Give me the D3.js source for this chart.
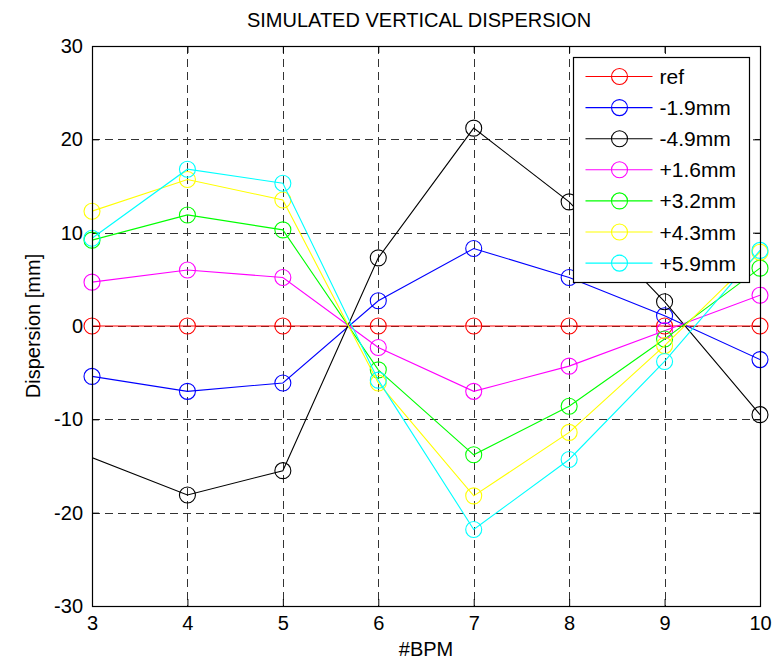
<!DOCTYPE html>
<html>
<head>
<meta charset="utf-8">
<script src="https://cdn.jsdelivr.net/npm/d3@7"></script>
<style>
  body { margin: 0; background: #fff; }
  text { font-family: "Liberation Sans", Arial, sans-serif; fill: #000; }
</style>
</head>
<body>
<div id="chart"></div>
<script>
// Simulated vertical dispersion per BPM

var bpm = [3, 4, 5, 6, 7, 8, 9, 10];
// the -4.9mm run starts one BPM earlier, its first point is off the axes
var bpmBlack = [2, 4, 5, 6, 7, 8, 9, 10];

var refVals   = [0, 0, 0, 0, 0, 0, 0, 0];
var m19Vals   = [-5.4, -7.0, -6.1, 2.7, 8.3, 5.2, 1.1, -3.6];
var m49Vals   = [-10.1, -18.1, -15.5, 7.3, 21.2, 13.3, 2.6, -9.5];
var p16Vals   = [4.7, 6.0, 5.2, -2.3, -7.0, -4.3, -0.5, 3.3];
var p32Vals   = [9.2, 11.9, 10.3, -4.7, -13.8, -8.6, -1.4, 6.2];
var p43Vals   = [12.3, 15.7, 13.5, -6.1, -18.2, -11.4, -2.1, 7.9];
var p59Vals   = [9.4, 16.8, 15.3, -5.8, -21.8, -14.3, -3.8, 8.1];

var seriesNames = ["ref", "-1.9mm", "-4.9mm", "+1.6mm", "+3.2mm", "+4.3mm", "+5.9mm"];
var seriesColors = ["#ff0000", "#0000ff", "#000000", "#ff00ff", "#00ff00", "#ffff00", "#00ffff"];

var xTicks = [3, 4, 5, 6, 7, 8, 9, 10];
var yTicks = [-30, -20, -10, 0, 10, 20, 30];

var series = [
  { x: bpm, y: refVals },
  { x: bpm, y: m19Vals },
  { x: bpmBlack, y: m49Vals },
  { x: bpm, y: p16Vals },
  { x: bpm, y: p32Vals },
  { x: bpm, y: p43Vals },
  { x: bpm, y: p59Vals }
].map((s, i) => ({
  name: seriesNames[i],
  color: seriesColors[i],
  points: s.x.map((x, j) => ({ x: x, y: s.y[j] }))
}));

var svgWidth = 783;
var svgHeight = 662;
var margin = { top: 46, right: 23, bottom: 56, left: 92 };
var width = svgWidth - margin.left - margin.right;
var height = svgHeight - margin.top - margin.bottom;

var svg = d3.select("#chart")
  .append("svg")
  .attr("width", svgWidth)
  .attr("height", svgHeight);

var chartGroup = svg.append("g")
  .attr("transform", `translate(${margin.left},${margin.top})`);

var xScale = d3.scaleLinear().domain([3, 10]).range([0, width]);
var yScale = d3.scaleLinear().domain([-30, 30]).range([height, 0]);

chartGroup.append("clipPath")
  .attr("id", "plot-clip")
  .append("rect")
  .attr("width", width)
  .attr("height", height);

// grid
var grid = chartGroup.append("g")
  .attr("stroke", "#333")
  .attr("stroke-width", 1)
  .attr("stroke-dasharray", "8,5");

grid.selectAll("line.vx")
  .data(xTicks.slice(1, -1))
  .enter()
  .append("line")
  .attr("x1", d => Math.round(xScale(d)) + 0.5)
  .attr("x2", d => Math.round(xScale(d)) + 0.5)
  .attr("y1", 0)
  .attr("y2", height);

grid.selectAll("line.hy")
  .data(yTicks.slice(1, -1))
  .enter()
  .append("line")
  .attr("y1", d => Math.round(yScale(d)) + 0.5)
  .attr("y2", d => Math.round(yScale(d)) + 0.5)
  .attr("x1", 0)
  .attr("x2", width);

// plain hyphen for negatives, no decimals
var plainFormat = d => String(d);

// axes, ticks pointing inward on all four sides
var bottomAxis = d3.axisBottom(xScale).tickValues(xTicks).tickFormat(plainFormat).tickSizeInner(-7).tickSizeOuter(0).tickPadding(10);
var topAxis = d3.axisTop(xScale).tickValues(xTicks).tickSizeInner(-7).tickSizeOuter(0).tickFormat("");
var leftAxis = d3.axisLeft(yScale).tickValues(yTicks).tickFormat(plainFormat).tickSizeInner(-7).tickSizeOuter(0).tickPadding(9);
var rightAxis = d3.axisRight(yScale).tickValues(yTicks).tickSizeInner(-7).tickSizeOuter(0).tickFormat("");

function styleAxis(g) {
  g.select(".domain").remove();
  g.selectAll("line").attr("stroke", "#000");
  g.selectAll("text")
    .style("font-size", "20px")
    .style("font-family", "'Liberation Sans', Arial, sans-serif")
    .attr("fill", "#000");
}

chartGroup.append("g").attr("transform", `translate(0,${height})`).call(bottomAxis).call(styleAxis);
chartGroup.append("g").call(topAxis).call(styleAxis);
chartGroup.append("g").call(leftAxis).call(styleAxis);
chartGroup.append("g").attr("transform", `translate(${width},0)`).call(rightAxis).call(styleAxis);

// lines
var line = d3.line()
  .x(d => xScale(d.x))
  .y(d => yScale(d.y));

var seriesGroup = chartGroup.selectAll("g.series")
  .data(series)
  .enter()
  .append("g")
  .attr("class", "series");

seriesGroup.append("path")
  .attr("clip-path", "url(#plot-clip)")
  .attr("d", d => line(d.points))
  .attr("fill", "none")
  .attr("stroke", d => d.color)
  .attr("stroke-width", 1.1);

seriesGroup.selectAll("circle")
  .data(d => d.points.filter(p => p.x >= 3 && p.x <= 10).map(p => ({ p: p, color: d.color })))
  .enter()
  .append("circle")
  .attr("cx", d => xScale(d.p.x))
  .attr("cy", d => yScale(d.p.y))
  .attr("r", 8)
  .attr("fill", "none")
  .attr("stroke", d => d.color)
  .attr("stroke-width", 1.1);

// frame
chartGroup.append("rect")
  .attr("x", 0.5)
  .attr("y", 0.5)
  .attr("width", width)
  .attr("height", height)
  .attr("fill", "none")
  .attr("stroke", "#000")
  .attr("stroke-width", 1.2);

// labels
svg.append("text")
  .attr("x", 419)
  .attr("y", 27)
  .attr("text-anchor", "middle")
  .style("font-size", "20px")
  .text("SIMULATED VERTICAL DISPERSION");

svg.append("text")
  .attr("x", margin.left + width / 2)
  .attr("y", 656)
  .attr("text-anchor", "middle")
  .style("font-size", "20px")
  .text("#BPM");

svg.append("text")
  .attr("transform", "rotate(-90)")
  .attr("x", -(margin.top + height / 2))
  .attr("y", 40)
  .attr("text-anchor", "middle")
  .style("font-size", "20px")
  .text("Dispersion [mm]");

// legend
var legend = svg.append("g")
  .attr("transform", "translate(573.5,57.5)");

legend.append("rect")
  .attr("width", 176)
  .attr("height", 225)
  .attr("fill", "#fff")
  .attr("stroke", "#000")
  .attr("stroke-width", 1.2);

var legendItems = legend.selectAll("g.item")
  .data(series)
  .enter()
  .append("g")
  .attr("class", "item")
  .attr("transform", (d, i) => `translate(0,${19 + i * 31.1})`);

legendItems.append("line")
  .attr("x1", 12)
  .attr("x2", 79)
  .attr("stroke", d => d.color)
  .attr("stroke-width", 1.1);

legendItems.append("circle")
  .attr("cx", 46)
  .attr("r", 8)
  .attr("fill", "none")
  .attr("stroke", d => d.color)
  .attr("stroke-width", 1.1);

legendItems.append("text")
  .attr("x", 86)
  .attr("dy", "0.36em")
  .style("font-size", "21px")
  .text(d => d.name);
</script>
</body>
</html>
